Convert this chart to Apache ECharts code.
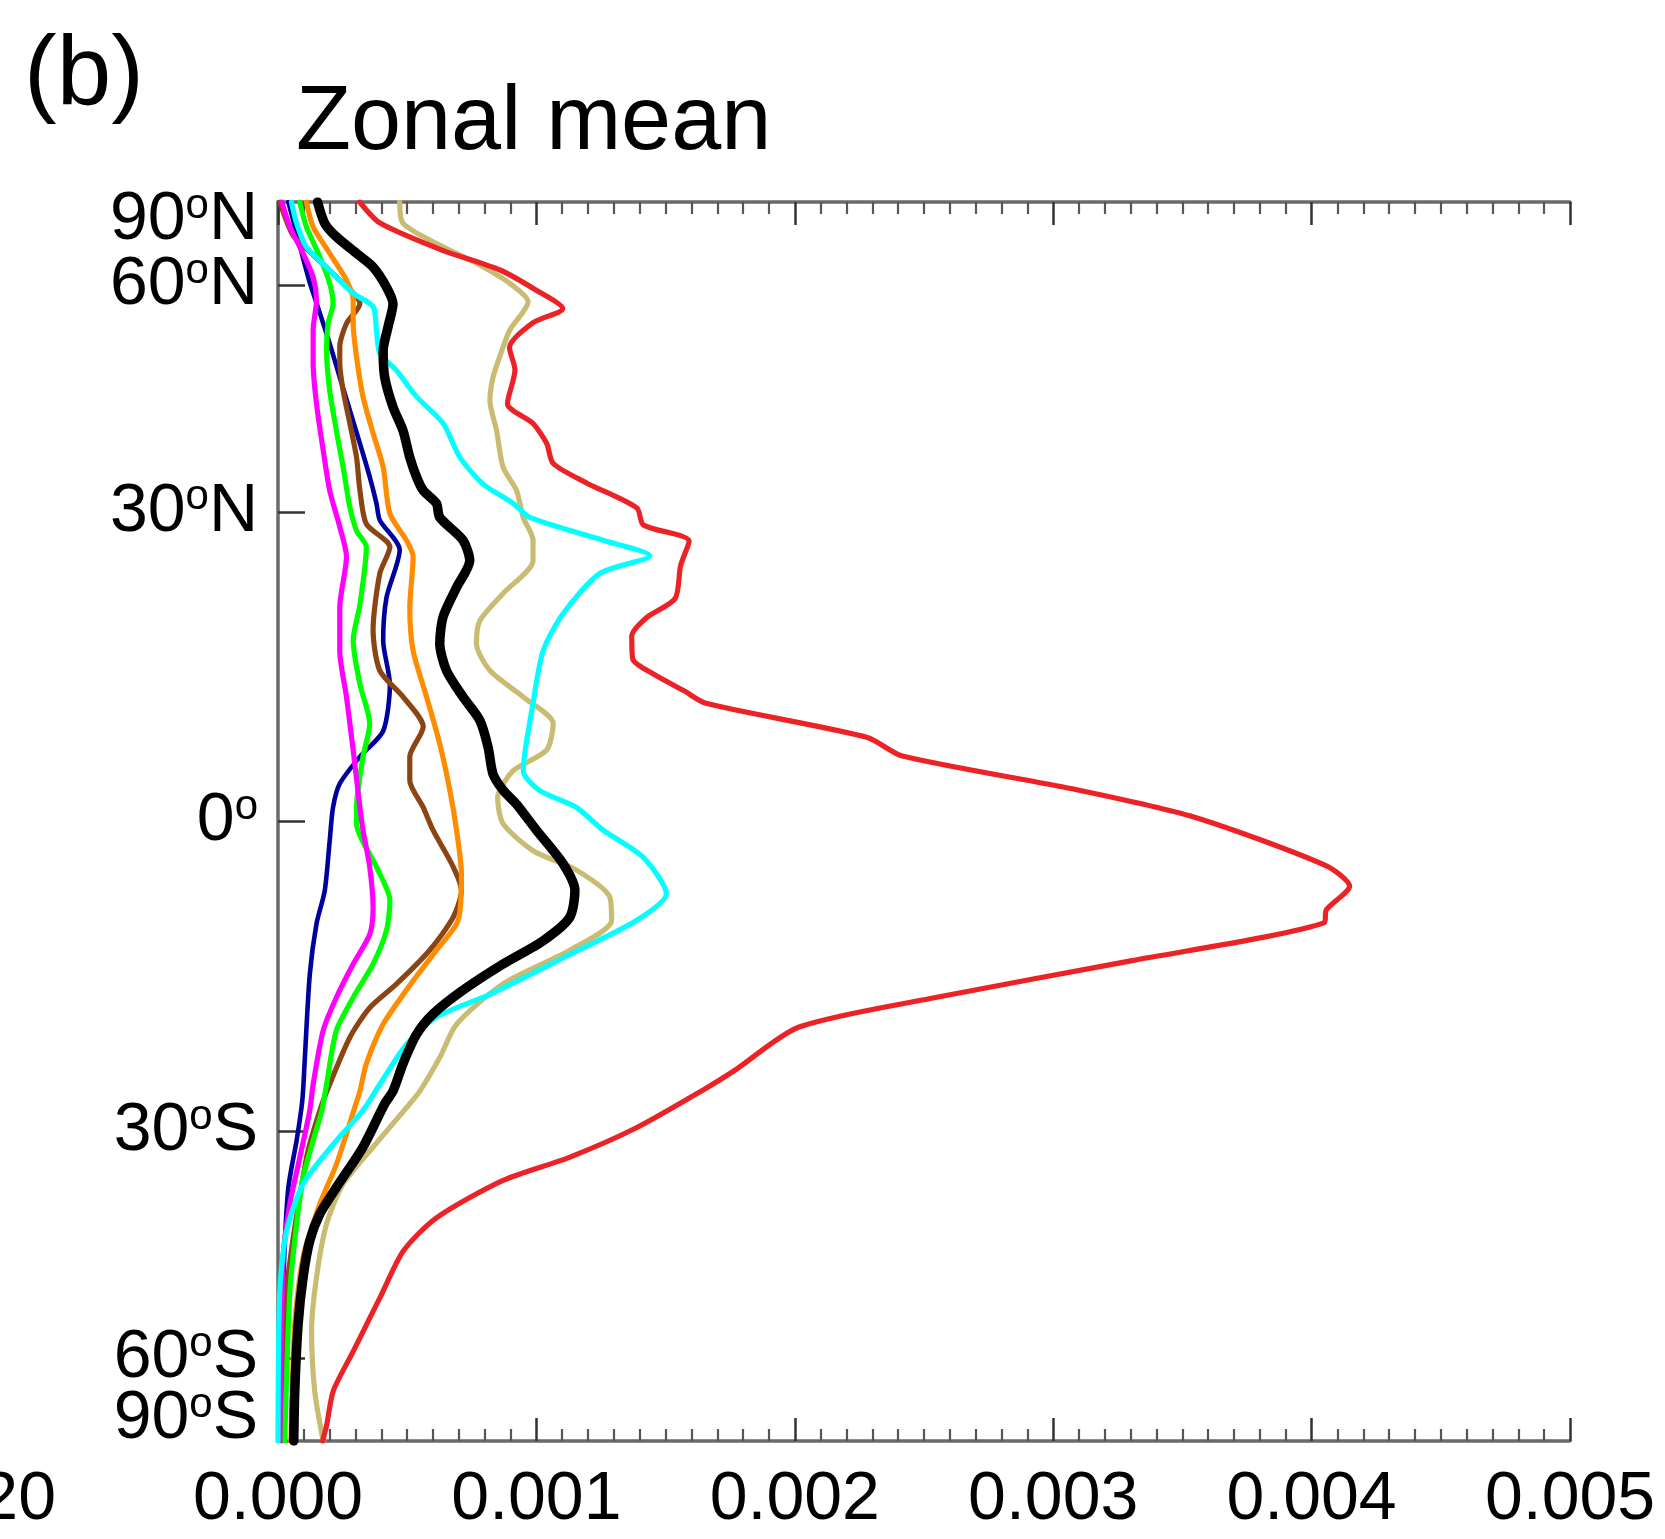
<!DOCTYPE html>
<html><head><meta charset="utf-8">
<script src="https://cdn.jsdelivr.net/npm/echarts@6/dist/echarts.min.js"></script>
<style>html,body{margin:0;padding:0;background:#fff}#chart{width:1665px;height:1539px}</style>
</head><body><div id="chart"></div>
<script>
// ---- texts / ticks ----
const panelLabel = '(b)';
const titleText = 'Zonal mean';
const neighbourTickText = '20';
const xMin = 0, xMax = 0.005, xStep = 0.001;
const latTicks = [-90, -60, -30, 0, 30, 60, 90];
const latTickNum = ['90', '60', '30', '0', '30', '60', '90'];
const latTickHemi = ['S', 'S', 'S', '', 'N', 'N', 'N'];

// ---- series: [latitude (deg), value] ----
const red = [[90,3.16e-4],[75.0,3.95e-4],[67.2,6.37e-4],[62.9,8.59e-4],[59.0,10.01e-4],[55.9,11.02e-4],[53.6,9.86e-4],[49.9,8.96e-4],[46.8,9.17e-4],[42.4,8.88e-4],[40.0,9.86e-4],[37.6,10.40e-4],[35.3,10.65e-4],[33.1,11.96e-4],[30.4,13.89e-4],[28.6,14.14e-4],[26.9,15.91e-4],[24.4,15.58e-4],[21.1,15.37e-4],[19.2,14.26e-4],[17.4,13.69e-4],[15.2,13.73e-4],[13.8,14.51e-4],[12.2,15.70e-4],[11.0,16.56e-4],[7.8,22.81e-4],[6.1,24.13e-4],[3.0,30.79e-4],[0.4,35.47e-4],[-4.1,40.57e-4],[-6.0,41.47e-4],[-8.2,40.57e-4],[-9.4,40.49e-4],[-13.0,33.00e-4],[-16.6,25.24e-4],[-19.4,20.14e-4],[-23.7,17.67e-4],[-25.7,16.44e-4],[-29.6,13.89e-4],[-32.8,11.30e-4],[-35.4,8.71e-4],[-39.8,6.12e-4],[-43.9,4.85e-4],[-50.2,3.95e-4],[-58.7,2.92e-4],[-66.8,2.14e-4],[-76.6,1.89e-4],[-90,1.73e-4]];
const tan = [[90,4.71e-4],[74.9,4.84e-4],[68.9,6.13e-4],[64.3,7.68e-4],[60.3,8.97e-4],[57.0,9.68e-4],[52.5,8.97e-4],[48.6,8.58e-4],[45.8,8.32e-4],[42.8,8.20e-4],[39.1,8.46e-4],[34.9,8.71e-4],[32.3,9.23e-4],[29.4,9.49e-4],[27.0,9.87e-4],[24.9,9.87e-4],[21.6,8.71e-4],[18.9,7.81e-4],[16.7,7.68e-4],[14.1,8.20e-4],[11.6,9.49e-4],[9.1,10.65e-4],[6.6,10.39e-4],[4.7,9.10e-4],[2.2,8.50e-4],[-0.2,8.71e-4],[-2.7,9.87e-4],[-4.5,11.55e-4],[-7.0,12.84e-4],[-9.2,12.91e-4],[-12.0,11.29e-4],[-15.2,8.71e-4],[-19.1,6.91e-4],[-22.4,6.26e-4],[-25.8,5.49e-4],[-27.1,5.10e-4],[-31.7,3.68e-4],[-35.8,2.52e-4],[-40.5,1.88e-4],[-47.4,1.49e-4],[-55.3,1.30e-4],[-66.8,1.42e-4],[-90,1.75e-4]];
const cyan = [[90,0.52e-4],[74.9,0.72e-4],[68.0,1.10e-4],[63.5,1.88e-4],[58.5,2.91e-4],[56.2,3.68e-4],[52.5,3.81e-4],[49.1,3.94e-4],[46.7,4.59e-4],[43.3,5.36e-4],[40.0,6.39e-4],[36.0,7.04e-4],[33.0,7.94e-4],[30.9,9.10e-4],[29.4,9.74e-4],[27.0,12.58e-4],[25.4,14.39e-4],[23.6,12.45e-4],[19.6,11.03e-4],[16.0,10.26e-4],[11.0,9.87e-4],[4.7,9.49e-4],[2.9,10.10e-4],[1.3,11.55e-4],[-0.8,12.58e-4],[-3.3,14.13e-4],[-6.7,15.03e-4],[-9.2,13.87e-4],[-12.4,11.29e-4],[-16.2,8.20e-4],[-18.4,6.13e-4],[-21.1,4.97e-4],[-25.1,3.94e-4],[-27.8,3.29e-4],[-31.0,2.26e-4],[-35.8,0.97e-4],[-41.4,0.33e-4],[-49.3,0.07e-4],[-90,0.0]];
const black = [[90,1.53e-4],[74.9,1.81e-4],[70.7,2.26e-4],[66.5,3.04e-4],[63.5,3.68e-4],[59.6,4.20e-4],[56.7,4.45e-4],[53.0,4.26e-4],[49.5,4.07e-4],[45.8,4.13e-4],[42.0,4.45e-4],[39.1,4.84e-4],[36.0,5.10e-4],[33.8,5.36e-4],[32.3,5.62e-4],[30.9,6.13e-4],[29.4,6.26e-4],[27.0,7.16e-4],[24.9,7.42e-4],[22.2,6.91e-4],[19.3,6.39e-4],[16.7,6.26e-4],[14.1,6.52e-4],[11.6,7.16e-4],[9.4,7.81e-4],[6.9,8.13e-4],[4.4,8.32e-4],[2.9,8.71e-4],[1.6,9.23e-4],[-0.8,10.00e-4],[-3.9,11.03e-4],[-6.4,11.49e-4],[-8.9,11.29e-4],[-11.1,10.26e-4],[-13.3,8.71e-4],[-15.8,7.16e-4],[-18.1,6.00e-4],[-20.1,5.36e-4],[-23.0,4.84e-4],[-25.8,4.45e-4],[-27.1,4.13e-4],[-31.7,3.29e-4],[-36.2,2.26e-4],[-39.3,1.62e-4],[-42.6,1.23e-4],[-47.4,0.97e-4],[-54.2,0.78e-4],[-66.8,0.65e-4],[-90,0.61e-4]];
const orange = [[90,1.10e-4],[73.7,1.36e-4],[66.5,2.00e-4],[60.9,2.65e-4],[57.3,2.91e-4],[53.5,2.91e-4],[48.6,3.04e-4],[43.3,3.29e-4],[38.8,3.68e-4],[34.9,4.07e-4],[29.8,4.33e-4],[27.0,4.97e-4],[25.3,5.23e-4],[20.2,5.10e-4],[16.0,5.23e-4],[11.6,5.75e-4],[7.2,6.26e-4],[2.9,6.65e-4],[-0.8,6.91e-4],[-4.9,7.10e-4],[-9.2,6.97e-4],[-12.0,6.13e-4],[-14.9,5.23e-4],[-19.1,4.07e-4],[-23.0,3.42e-4],[-25.8,3.17e-4],[-27.5,2.97e-4],[-33.6,2.26e-4],[-38.1,1.62e-4],[-44.7,0.97e-4],[-54.2,0.65e-4],[-90,0.50e-4]];
const brown = [[90,0.07e-4],[71.1,0.58e-4],[66.5,1.30e-4],[61.5,2.26e-4],[56.7,3.17e-4],[53.5,2.65e-4],[50.0,2.39e-4],[47.7,2.39e-4],[44.1,2.52e-4],[40.0,2.78e-4],[36.0,3.04e-4],[32.3,3.17e-4],[28.7,3.42e-4],[26.3,4.33e-4],[23.6,3.94e-4],[18.0,3.68e-4],[14.1,3.94e-4],[11.6,4.84e-4],[8.8,5.62e-4],[6.0,5.10e-4],[3.8,5.10e-4],[1.3,5.62e-4],[-0.8,6.00e-4],[-4.2,6.78e-4],[-6.4,7.10e-4],[-8.9,6.78e-4],[-12.0,5.87e-4],[-15.2,4.59e-4],[-17.5,3.55e-4],[-20.4,2.78e-4],[-25.1,2.00e-4],[-27.8,1.62e-4],[-32.9,1.10e-4],[-50.7,0.30e-4],[-90,0.20e-4]];
const navy = [[90,0.40e-4],[60.9,1.20e-4],[56.7,1.50e-4],[53.5,1.75e-4],[50.5,2.00e-4],[45.8,2.39e-4],[41.6,2.78e-4],[37.6,3.17e-4],[33.8,3.55e-4],[30.9,3.81e-4],[29.1,3.94e-4],[26.0,4.71e-4],[21.2,4.20e-4],[17.0,4.07e-4],[12.8,4.33e-4],[8.4,4.07e-4],[6.0,3.17e-4],[3.5,2.39e-4],[1.3,2.13e-4],[-1.8,2.00e-4],[-6.4,1.81e-4],[-9.5,1.49e-4],[-14.3,1.23e-4],[-22.4,1.04e-4],[-25.8,0.97e-4],[-27.5,0.91e-4],[-31.0,0.72e-4],[-36.5,0.39e-4],[-49.3,0.20e-4],[-90,0.14e-4]];
const green = [[90,0.84e-4],[73.7,1.10e-4],[65.7,1.62e-4],[60.3,2.00e-4],[56.7,2.13e-4],[53.5,1.94e-4],[49.5,1.88e-4],[44.1,2.00e-4],[39.1,2.26e-4],[34.9,2.52e-4],[30.5,2.78e-4],[28.0,3.04e-4],[26.3,3.42e-4],[20.5,3.17e-4],[17.0,2.91e-4],[12.8,3.17e-4],[9.1,3.55e-4],[6.0,3.29e-4],[1.3,3.04e-4],[-0.2,3.04e-4],[-4.2,3.81e-4],[-7.3,4.33e-4],[-10.1,4.20e-4],[-13.3,3.68e-4],[-16.5,2.91e-4],[-19.7,2.26e-4],[-25.1,1.88e-4],[-27.8,1.70e-4],[-31.0,1.36e-4],[-35.1,0.97e-4],[-40.5,0.72e-4],[-49.3,0.46e-4],[-90,0.26e-4]];
const magenta = [[90,0.15e-4],[73.7,0.46e-4],[66.5,0.97e-4],[61.5,1.36e-4],[57.3,1.49e-4],[52.5,1.36e-4],[47.7,1.36e-4],[42.4,1.49e-4],[36.8,1.75e-4],[32.3,2.00e-4],[28.4,2.39e-4],[25.3,2.65e-4],[20.2,2.39e-4],[16.0,2.39e-4],[11.6,2.65e-4],[6.6,2.91e-4],[1.3,3.17e-4],[-0.8,3.29e-4],[-4.2,3.55e-4],[-8.0,3.68e-4],[-10.5,3.55e-4],[-13.3,2.91e-4],[-16.5,2.26e-4],[-19.7,1.75e-4],[-25.1,1.36e-4],[-27.8,1.23e-4],[-32.9,0.84e-4],[-38.1,0.46e-4],[-44.7,0.20e-4],[-90,0.07e-4]];

const seriesDefs = [
  {name: 'tan', data: tan, color: '#C9BC72', width: 5.2},
  {name: 'red', data: red, color: '#EC2227', width: 5.2},
  {name: 'navy', data: navy, color: '#00009E', width: 4.6},
  {name: 'brown', data: brown, color: '#8B4513', width: 5.2},
  {name: 'green', data: green, color: '#00FF00', width: 5.2},
  {name: 'magenta', data: magenta, color: '#FF00FF', width: 5.2},
  {name: 'orange', data: orange, color: '#FF8C00', width: 5.2},
  {name: 'cyan', data: cyan, color: '#00FFFF', width: 5.2},
  {name: 'black', data: black, color: '#000000', width: 9.5}
];

const FONT = 'Liberation Sans, Arial, Helvetica, sans-serif';
const toSin = lat => Math.sin(lat * Math.PI / 180);
const latTickVals = latTicks.map(toSin);
const innerVals = latTickVals.slice(1, -1);           // 60S .. 60N
const poleVals = [latTickVals[0], latTickVals[latTickVals.length - 1]];

function latLabel(v) {
  let i = 0, best = 1e9;
  latTickVals.forEach((t, k) => { const d = Math.abs(t - v); if (d < best) { best = d; i = k; } });
  let s = '{n|' + latTickNum[i] + '}{s|o}' + (latTickHemi[i] ? '{n|' + latTickHemi[i] + '}' : '');
  if (latTicks[i] === 90) s = '{g1| }\n' + s;
  if (latTicks[i] === -90) s = s + '\n{g2| }';
  return s;
}
const labelRich = {
  n: {fontSize: 68, fontFamily: FONT, color: '#000', lineHeight: 70},
  s: {fontSize: 42, fontFamily: FONT, color: '#000', lineHeight: 30, verticalAlign: 'top'},
  g1: {fontSize: 8, lineHeight: 36},
  g2: {fontSize: 8, lineHeight: 44}
};

const chart = echarts.init(document.getElementById('chart'), null, {renderer: 'canvas'});
const xAxisBase = {
  type: 'value', min: xMin, max: xMax, interval: xStep,
  axisLine: {show: true, onZero: false, lineStyle: {color: '#6a6a6a', width: 3.5}},
  axisTick: {show: true, inside: true, length: 23, lineStyle: {color: '#333', width: 2.5}},
  minorTick: {show: true, splitNumber: 10, length: 12, lineStyle: {color: '#555', width: 2.2}},
  splitLine: {show: false}, minorSplitLine: {show: false}
};
const option = {
  animation: false,
  backgroundColor: '#fff',
  grid: {left: 278, right: 95, top: 202, bottom: 98, containLabel: false},
  xAxis: [
    Object.assign({}, xAxisBase, {
      position: 'bottom',
      axisLabel: {show: true, margin: 25, fontSize: 68, fontFamily: FONT, color: '#000',
        formatter: v => v.toFixed(3)}
    }),
    Object.assign({}, xAxisBase, {position: 'top', axisLabel: {show: false}})
  ],
  yAxis: [
    {
      type: 'value', min: -1, max: 1, position: 'left',
      axisLine: {show: true, onZero: false, lineStyle: {color: '#6a6a6a', width: 3.5}},
      axisTick: {show: true, inside: true, length: 27, lineStyle: {color: '#333', width: 2.5},
        customValues: innerVals},
      axisLabel: {show: true, margin: 20, customValues: innerVals, formatter: latLabel,
        showMinLabel: true, showMaxLabel: true, rich: labelRich},
      splitLine: {show: false}
    },
    {
      type: 'value', min: -1, max: 1, position: 'left', offset: 0,
      axisLine: {show: false, onZero: false},
      axisTick: {show: false},
      axisLabel: {show: true, margin: 20, customValues: poleVals, formatter: latLabel,
        showMinLabel: true, showMaxLabel: true, rich: labelRich},
      splitLine: {show: false}
    }
  ],
  graphic: [
    {type: 'text', left: 24, top: 28, style: {text: panelLabel, font: '98px ' + FONT, fill: '#000'}},
    {type: 'text', x: 296, y: 124, style: {text: titleText, font: '90px ' + FONT, fill: '#000', verticalAlign: 'middle', align: 'left'}},
    {type: 'text', x: 56, y: 1500, style: {text: neighbourTickText, font: '68px ' + FONT, fill: '#000', verticalAlign: 'middle', align: 'right'}}
  ],
  series: seriesDefs.map(d => ({
    name: d.name, type: 'line', xAxisIndex: 0, yAxisIndex: 0,
    data: d.data.map(p => [p[1], toSin(p[0])]),
    showSymbol: false, symbol: 'none', smooth: 0.25, clip: true,
    lineStyle: {color: d.color, width: d.width, join: 'round', cap: 'round'},
    emphasis: {disabled: true}
  }))
};
chart.setOption(option);
</script>
</body></html>
